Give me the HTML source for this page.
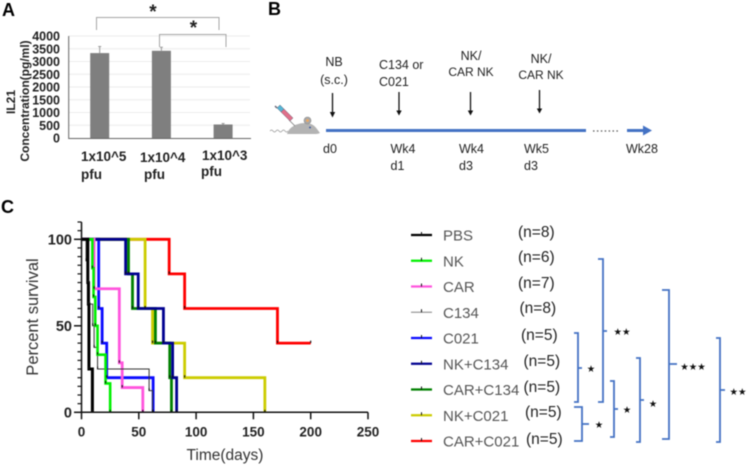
<!DOCTYPE html>
<html lang="en">
<head>
<meta charset="utf-8">
<title>IL21 concentration, treatment timeline and survival</title>
<style>
html,body{margin:0;padding:0;background:#fff;width:748px;height:465px;overflow:hidden}
svg{display:block;filter:blur(0.45px)}
text{font-family:"Liberation Sans",sans-serif}
</style>
</head>
<body>
<svg id="fig" xmlns="http://www.w3.org/2000/svg" width="748" height="465" viewBox="0 0 748 465">
  <text x="2" y="16" font-size="18" font-weight="700">A</text>
  <text x="268" y="15" font-size="18" font-weight="700">B</text>
  <text x="1" y="213" font-size="18" font-weight="700">C</text>

  <g id="panelA"></g>
  <g font-size="12" font-weight="700" fill="#222" text-anchor="middle">
    <text transform="translate(15,102) rotate(-90)">IL21</text>
    <text transform="translate(29,101) rotate(-90)">Concentration(pg/ml)</text>
  </g>
  <g font-size="13.5" font-weight="700" fill="#222">
    <text x="81" y="161">1x10^5</text>
    <text x="81" y="179">pfu</text>
    <text x="140" y="162">1x10^4</text>
    <text x="144" y="179">pfu</text>
    <text x="202" y="160">1x10^3</text>
    <text x="201" y="176">pfu</text>
  </g>
  <g fill="none" stroke="#a6a6a6" stroke-width="1">
    <path d="M96.500 30V17.500H219V30"/>
    <path d="M159.500 47V34.500H226V47"/>
  </g>
  <text x="153" y="18" font-size="19" font-weight="700" text-anchor="middle" fill="#222">*</text>
  <text x="193.500" y="34" font-size="19" font-weight="700" text-anchor="middle" fill="#222">*</text>

  <!-- Panel B -->
  <g>
    <g>
      <path d="M270 131q1.500-2 3 0t3 0t3 0t3 0t3 0t3 0" fill="none" stroke="#999" stroke-width="0.7"/>
      <path d="M287 134c2-7 10-11 18-11c6 0 9 2 12 6l3 4q-2 1-4 1z" fill="#b3b3b3"/>
      <circle cx="307.500" cy="120.500" r="3.500" fill="#a8a8a8" stroke="#8a8a8a" stroke-width="0.6"/>
      <circle cx="307.500" cy="120.500" r="1.400" fill="#f0a860"/>
      <circle cx="310" cy="127.500" r="0.900" fill="#2a4a9a"/>
      <path d="M289 120l6 6" stroke="#777" stroke-width="0.8"/>
      <path d="M281 112l3-3 9 9-3 3z" fill="#e0708a" stroke="#667" stroke-width="0.5"/>
      <path d="M281 112l3-3-4-4-3 3z" fill="#55b5d5" stroke="#667" stroke-width="0.5"/>
      <path d="M277 108l-2-2" stroke="#667" stroke-width="1.500"/>
    </g>
    <path d="M326 130.500H586" stroke="#4472c4" stroke-width="3"/>
    <path d="M593 131H618" stroke="#555" stroke-width="1.200" stroke-dasharray="1.500 2.400"/>
    <path d="M627 130.500H645" stroke="#4472c4" stroke-width="3"/>
    <path d="M643 125.500L652 130.500L643 135.500z" fill="#4472c4"/>
    <g stroke="#111" stroke-width="1.300" fill="#111">
      <path d="M332.500 93V113"/><path d="M329.800 112h5.400l-2.700 5.500z" stroke="none"/>
      <path d="M399 92V111"/><path d="M396.300 110.500h5.400l-2.700 5z" stroke="none"/>
      <path d="M470.500 92V111"/><path d="M467.800 110.500h5.400l-2.700 5z" stroke="none"/>
      <path d="M539.500 90V109"/><path d="M536.800 108.500h5.400l-2.700 5z" stroke="none"/>
    </g>
    <g font-size="12.500" fill="#222">
      <text x="334" y="66" text-anchor="middle">NB</text>
      <text x="334" y="84" text-anchor="middle">(s.c.)</text>
      <text x="379" y="69">C134 or</text>
      <text x="379" y="86">C021</text>
      <text x="471" y="60" text-anchor="middle">NK/</text>
      <text x="471" y="76" text-anchor="middle" font-size="12">CAR NK</text>
      <text x="541" y="63" text-anchor="middle">NK/</text>
      <text x="541" y="79" text-anchor="middle" font-size="12">CAR NK</text>
      <text x="323" y="153">d0</text>
      <text x="390.500" y="153">Wk4</text>
      <text x="390.500" y="170">d1</text>
      <text x="459" y="153">Wk4</text>
      <text x="459" y="170">d3</text>
      <text x="524" y="153">Wk5</text>
      <text x="524" y="170">d3</text>
      <text x="626" y="153">Wk28</text>
    </g>
  </g>

  <!-- Panel C -->
  <g id="panelC"></g>
  <text transform="translate(38,317) rotate(-90)" font-size="16.500" text-anchor="middle" fill="#333">Percent survival</text>
  <text x="225" y="460" font-size="15.500" text-anchor="middle" fill="#333">Time(days)</text>

  <g id="legend"></g>

  <g fill="none" stroke="#4472c4" stroke-width="1.800">
    <path d="M574 333H578V402H574M578 368H582"/>
    <path d="M574 407H582V441H574M582 424H589"/>
    <path d="M598 259H603V402H598M603 331H607"/>
    <path d="M610 381H614V437H610M614 409H618"/>
    <path d="M636 358H640V442H636M640 400H644"/>
    <path d="M662 290H669V439H662M669 364H677"/>
    <path d="M716 338H720V442H716M720 390H725"/>
  </g>
  <g font-size="9.500" text-anchor="middle" fill="#111">
    <text style="font-family:'DejaVu Sans',sans-serif" x="591" y="372">★</text>
    <text style="font-family:'DejaVu Sans',sans-serif" x="599" y="428">★</text>
    <text style="font-family:'DejaVu Sans',sans-serif" x="622" y="335">★★</text>
    <text style="font-family:'DejaVu Sans',sans-serif" x="627" y="413">★</text>
    <text style="font-family:'DejaVu Sans',sans-serif" x="653" y="407">★</text>
    <text style="font-family:'DejaVu Sans',sans-serif" x="693" y="370">★★★</text>
    <text style="font-family:'DejaVu Sans',sans-serif" x="738" y="395">★★</text>
  </g>
</svg>

<script>
// Panel A data
const il21Categories = ['1x10^5', '1x10^4', '1x10^3'];
const il21Values = [3330, 3420, 530];
const il21ErrorTops = [3590, 3560, 570];
const il21Ticks = [0, 500, 1000, 1500, 2000, 2500, 3000, 3500, 4000];

// Panel C data: event days and the survival level after each event
const groupNames = ['PBS', 'NK', 'CAR', 'C134', 'C021', 'NK+C134', 'CAR+C134', 'NK+C021', 'CAR+C021'];
const groupCounts = ['(n=8)', '(n=6)', '(n=7)', '(n=8)', '(n=5)', '(n=5)', '(n=5)', '(n=5)', '(n=5)'];
const pbsDays = [5.5, 6, 6.5, 9.5];
const pbsSurvival = [75, 62.5, 25, 0];
const nkDays = [9.5, 10.5, 12, 14, 21, 25];
const nkSurvival = [83.3, 66.7, 50, 33.3, 16.7, 0];
const carDays = [11, 33, 35.5, 53.5];
const carSurvival = [71.4, 28.6, 14.3, 0];
const c134Days = [4, 6, 7, 9.8, 11, 14, 59, 62];
const c134Survival = [87.5, 75, 62.5, 50, 37.5, 25, 12.5, 0];
const c021Days = [15, 18, 22, 62.5];
const c021Survival = [60, 40, 20, 0];
const nkC134Days = [38.5, 49.5, 71.5, 79.5, 83];
const nkC134Survival = [80, 60, 40, 20, 0];
const carC134Days = [41, 44.5, 64.5, 77, 78.5];
const carC134Survival = [80, 60, 40, 20, 0];
const nkC021Days = [55.5, 62, 90, 160];
const nkC021Survival = [60, 40, 20, 0];
const carC021Days = [76.5, 90, 171];
const carC021Survival = [80, 60, 40];
const carC021EndDay = 200;
const survivalXTicks = [0, 50, 100, 150, 200, 250];
const survivalYTicks = [0, 50, 100];
const survivalMinorStep = 5;
const survivalYMax = 110;

const NS = 'http://www.w3.org/2000/svg';
function mk(parent, tag, props, text) {
  const el = document.createElementNS(NS, tag);
  for (const k in props) el.setAttribute(k, props[k]);
  if (text !== undefined) el.textContent = text;
  parent.appendChild(el);
  return el;
}

// ----- Panel A -----
const yA = v => 138 - v * 102 / 4000;
const xA = i => 99.7 + i * 61.7;
const pA = document.getElementById('panelA');
il21Ticks.forEach(t => {
  if (t > 0) {
    const g = mk(pA, 'line', {x1: 69, x2: 250, y1: yA(t), y2: yA(t), stroke: '#ececec', 'stroke-width': 1});
    
    
  }
  const l = mk(pA, 'text', {x: 60, y: yA(t) + 4.5, 'font-size': 12.5, 'font-weight': 700, 'text-anchor': 'end', fill: '#222'}, String(t));
  
  
});
il21Categories.forEach((c, i) => {
  const top = yA(il21ErrorTops[i]);
  const e = mk(pA, 'path', {d: `M${xA(i)} ${yA(il21Values[i])}V${top}m-1.500 0h3`, stroke: '#999', 'stroke-width': 1, fill: 'none'});
  
  
  const b = mk(pA, 'rect', {x: xA(i) - 9.5, y: yA(il21Values[i]), width: 19, height: 138 - yA(il21Values[i]), fill: '#7f7f7f'});
  
  
});
const axA = mk(pA, 'path', {d: 'M68.700 36V138.500H251', stroke: '#666', 'stroke-width': 1, fill: 'none'});



// ----- Panel C -----
const xC = d => 81.5 + d * 1.146;
const yC = s => 412.3 - s * 1.73;
const pC = document.getElementById('panelC');
const seriesStyles = {
  'PBS': ['#000000', 3, pbsDays, pbsSurvival],
  'NK': ['#00f000', 2.6, nkDays, nkSurvival],
  'CAR': ['#ff55dd', 2.8, carDays, carSurvival],
  'C134': ['#333333', 1, c134Days, c134Survival],
  'C021': ['#0a0aff', 2.8, c021Days, c021Survival],
  'NK+C134': ['#000090', 2.8, nkC134Days, nkC134Survival],
  'CAR+C134': ['#008000', 2.8, carC134Days, carC134Survival],
  'NK+C021': ['#cccc00', 2.8, nkC021Days, nkC021Survival],
  'CAR+C021': ['#ff0000', 2.8, carC021Days, carC021Survival]
};
const drawOrder = ['CAR+C021', 'NK+C021', 'CAR+C134', 'C021', 'NK+C134', 'CAR', 'C134', 'NK', 'PBS'];
drawOrder.forEach(name => {
  const [color, width, days, surv] = seriesStyles[name];
  let d = `M${xC(0)} ${yC(100)}`;
  days.forEach((day, i) => { d += `H${xC(day)}V${yC(surv[i])}`; });
  if (name === 'CAR+C021') d += `H${xC(carC021EndDay)}`;
  const line = mk(pC, 'path', {d: d, fill: 'none', stroke: color, 'stroke-width': width});
  
  
});
drawOrder.forEach(name => {
  const [, , days, surv] = seriesStyles[name];
  const pts = days.map((day, i) => [day, surv[i]]);
  if (name === 'CAR+C021') pts.push([carC021EndDay, surv[surv.length - 1]]);
  pts.forEach(p => {
    const m = mk(pC, 'line', {x1: xC(p[0]), x2: xC(p[0]), y1: yC(p[1]) - 2.5, y2: yC(p[1]), stroke: '#111', 'stroke-width': 1.1});
    
    
  });
});
const axC = mk(pC, 'path', {d: `M${xC(0)} ${yC(survivalYMax)}V${yC(0)}H${xC(250)}`, stroke: '#111', 'stroke-width': 1.5, fill: 'none'});


for (let s = 0; s <= survivalYMax; s += survivalMinorStep) {
  const major = survivalYTicks.includes(s);
  const tk = mk(pC, 'line', {x1: major ? 74 : 77.500, x2: 81.500, y1: yC(s), y2: yC(s), stroke: '#111', 'stroke-width': major ? 1.500 : 1.200});
  
  
}
survivalYTicks.forEach(t => {
  const l = mk(pC, 'text', {x: 72, y: yC(t) + 5, 'font-size': 14.500, 'font-weight': 700, 'text-anchor': 'end', fill: '#222'}, String(t));
  
  
});
survivalXTicks.forEach(t => {
  const tk = mk(pC, 'line', {x1: xC(t), x2: xC(t), y1: yC(0), y2: yC(0) + 7, stroke: '#111', 'stroke-width': 1.500});
  
  
  const l = mk(pC, 'text', {x: xC(t), y: 436.500, 'font-size': 13.500, 'font-weight': 700, 'text-anchor': 'middle', fill: '#222'}, String(t));
  
  
});

// ----- Legend -----
const lg = document.getElementById('legend');
const rowY = i => 235 + i * 25.75;
const countX = [518, 518, 518, 519.5, 521, 523.5, 523.5, 525, 526];
const countY = [237, 262, 288, 313, 340, 366, 392, 417, 444];
groupNames.forEach((name, i) => {
  const color = name === 'C134' ? '#808080' : seriesStyles[name][0];
  const sw = name === 'C134' ? 1 : 2.2;
  const ln = mk(lg, 'line', {x1: 411, x2: 432, y1: rowY(i), y2: rowY(i), stroke: color, 'stroke-width': sw});
  
  
  const tk = mk(lg, 'line', {x1: 421.500, x2: 421.500, y1: rowY(i) - 3, y2: rowY(i), stroke: '#111', 'stroke-width': 1});
  
  
  const t = mk(lg, 'text', {x: 443, y: rowY(i) + 5.500, 'font-size': 15, fill: '#555'}, name);
  
  
  const n = mk(lg, 'text', {x: countX[i], y: countY[i], 'font-size': 15.500, fill: '#222'}, groupCounts[i]);
  
  
});
</script>
</body>
</html>
